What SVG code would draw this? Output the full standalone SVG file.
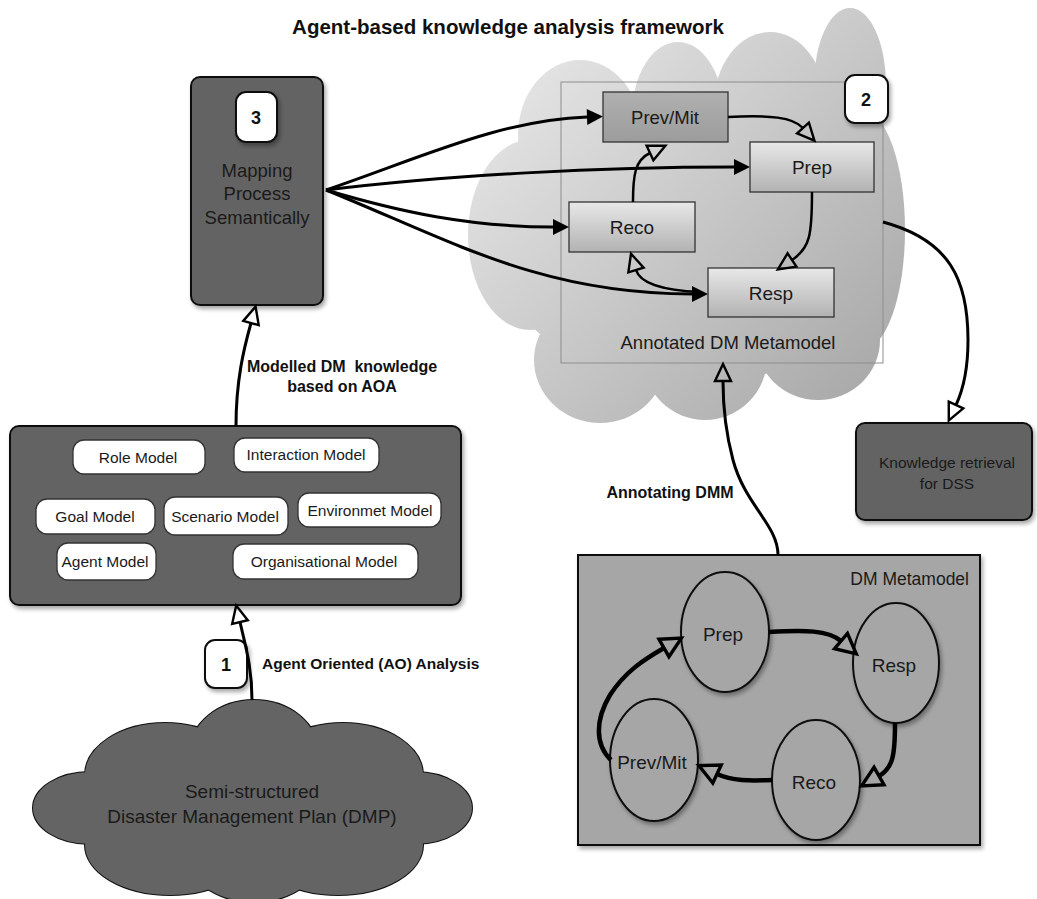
<svg xmlns="http://www.w3.org/2000/svg" width="1037" height="899" viewBox="0 0 1037 899">
<style>
text{font-family:"Liberation Sans",Arial,sans-serif;fill:#1a1a1a}
.b{font-weight:bold;fill:#111}
.c{text-anchor:middle}
.dark{fill:#646464;stroke:#111;stroke-width:2}
.pill{fill:#fff;stroke:#333;stroke-width:1.3}
.badge{fill:#fff;stroke:#111;stroke-width:2}
.ibox{stroke:#333;stroke-width:1.3}
.ell{fill:#a6a6a6;stroke:#111;stroke-width:2}
.con{fill:none;stroke:#000;stroke-width:3}
.thin{fill:none;stroke:#000;stroke-width:2.5}
.thick{fill:none;stroke:#000;stroke-width:4.5}
</style>
<defs>
<filter id="sh" x="-15%" y="-15%" width="140%" height="140%"><feDropShadow dx="2" dy="3" stdDeviation="2" flood-color="#000" flood-opacity="0.35"/></filter>
<linearGradient id="cloudG" gradientUnits="userSpaceOnUse" x1="480" y1="20" x2="900" y2="420"><stop offset="0" stop-color="#ececec"/><stop offset="1" stop-color="#a4a4a4"/></linearGradient>
<linearGradient id="boxG" x1="0" y1="0" x2="0" y2="1"><stop offset="0" stop-color="#e8e8e8"/><stop offset="1" stop-color="#b2b2b2"/></linearGradient>
<linearGradient id="boxD" x1="0" y1="0" x2="0" y2="1"><stop offset="0" stop-color="#b0b0b0"/><stop offset="1" stop-color="#9c9c9c"/></linearGradient>
<marker id="fa" markerUnits="userSpaceOnUse" markerWidth="24" markerHeight="24" refX="1" refY="8" orient="auto" overflow="visible"><path d="M1,0 L17,8 L1,16 Z" fill="#000"/></marker>
<marker id="oa" markerUnits="userSpaceOnUse" markerWidth="24" markerHeight="24" refX="1" refY="9" orient="auto" overflow="visible"><path d="M1,1 L18,9 L1,17 Z" fill="none" stroke="#000" stroke-width="2.4" stroke-linejoin="miter"/></marker>
<marker id="ol" markerUnits="userSpaceOnUse" markerWidth="30" markerHeight="30" refX="1" refY="11" orient="auto" overflow="visible"><path d="M1,1 L21,11 L1,21 Z" fill="none" stroke="#000" stroke-width="3.4"/></marker>
</defs>
<rect width="1037" height="899" fill="#fff"/>

<text class="b c" x="508" y="34" font-size="20.5">Agent-based knowledge analysis framework</text>

<g id="annotated-cloud">
<g fill="url(#cloudG)">
<ellipse cx="850" cy="85" rx="36" ry="77"/>
<ellipse cx="770" cy="105" rx="56" ry="73"/>
<ellipse cx="678" cy="115" rx="46" ry="73"/>
<ellipse cx="580" cy="135" rx="62" ry="75"/>
<ellipse cx="530" cy="235" rx="62" ry="95"/>
<ellipse cx="600" cy="360" rx="66" ry="63"/>
<ellipse cx="705" cy="358" rx="62" ry="62"/>
<ellipse cx="818" cy="340" rx="62" ry="60"/>
<ellipse cx="862" cy="230" rx="43" ry="120"/>
<ellipse cx="690" cy="235" rx="200" ry="150"/>
</g>
<rect x="561" y="82" width="322" height="281" fill="none" stroke="#8e8e8e" stroke-width="1"/>
<text class="c" x="728" y="349" font-size="18.5">Annotated DM Metamodel</text>
</g>

<g id="badge-2"><rect class="badge" x="845" y="75" width="43" height="48" rx="10" filter="url(#sh)"/><text class="b c" x="866" y="106" font-size="18">2</text></g>

<g id="prevmit-box"><rect class="ibox" x="603" y="92" width="125" height="50" fill="url(#boxD)"/><text class="c" x="665" y="124" font-size="18.5">Prev/Mit</text></g>
<g id="prep-box"><rect class="ibox" x="750" y="142" width="124" height="50" fill="url(#boxG)"/><text class="c" x="812" y="174" font-size="19">Prep</text></g>
<g id="reco-box"><rect class="ibox" x="569" y="202" width="126" height="50" fill="url(#boxG)"/><text class="c" x="632" y="234" font-size="19">Reco</text></g>
<g id="resp-box"><rect class="ibox" x="708" y="268" width="126" height="49" fill="url(#boxG)"/><text class="c" x="771" y="300" font-size="19">Resp</text></g>

<g id="mapping-node">
<rect class="dark" x="191" y="77" width="132" height="228" rx="9" filter="url(#sh)"/>
<rect class="badge" x="236" y="92" width="41" height="50" rx="10" filter="url(#sh)"/>
<text class="b c" x="256" y="124" font-size="18">3</text>
<text class="c" x="257" y="177" font-size="18.5">Mapping</text>
<text class="c" x="257" y="200" font-size="18.5">Process</text>
<text class="c" x="257" y="224" font-size="18.5">Semantically</text>
</g>

<g id="aoa-models">
<rect class="dark" x="10" y="426" width="451" height="179" rx="9" filter="url(#sh)"/>
<rect class="pill" x="73" y="440" width="132" height="34" rx="11"/><text class="c" x="138" y="463" font-size="15.5">Role Model</text>
<rect class="pill" x="234" y="438" width="145" height="34" rx="11"/><text class="c" x="306" y="460" font-size="15.5">Interaction Model</text>
<rect class="pill" x="36" y="499" width="119" height="35" rx="11"/><text class="c" x="95" y="522" font-size="15.5">Goal Model</text>
<rect class="pill" x="164" y="497" width="124" height="38" rx="11"/><text class="c" x="225" y="522" font-size="15.5">Scenario Model</text>
<rect class="pill" x="298" y="493" width="143" height="34" rx="11"/><text class="c" x="370" y="516" font-size="15.5">Environmet Model</text>
<rect class="pill" x="57" y="543" width="99" height="37" rx="11"/><text class="c" x="105" y="567" font-size="15.5">Agent Model</text>
<rect class="pill" x="233" y="544" width="185" height="35" rx="11"/><text class="c" x="324" y="567" font-size="15.5">Organisational Model</text>
</g>

<g id="dmp-cloud">
<g fill="#646464" stroke="#111" stroke-width="2">
<ellipse cx="254" cy="752" rx="64" ry="52"/>
<ellipse cx="165" cy="775" rx="80" ry="52"/>
<ellipse cx="343" cy="775" rx="80" ry="52"/>
<ellipse cx="90" cy="808" rx="57" ry="36"/>
<ellipse cx="415" cy="808" rx="57" ry="36"/>
<ellipse cx="170" cy="845" rx="85" ry="50"/>
<ellipse cx="338" cy="845" rx="85" ry="50"/>
<ellipse cx="254" cy="850" rx="70" ry="52"/>
</g>
<g fill="#646464">
<ellipse cx="254" cy="752" rx="64" ry="52"/>
<ellipse cx="165" cy="775" rx="80" ry="52"/>
<ellipse cx="343" cy="775" rx="80" ry="52"/>
<ellipse cx="90" cy="808" rx="57" ry="36"/>
<ellipse cx="415" cy="808" rx="57" ry="36"/>
<ellipse cx="170" cy="845" rx="85" ry="50"/>
<ellipse cx="338" cy="845" rx="85" ry="50"/>
<ellipse cx="254" cy="850" rx="70" ry="52"/>
<ellipse cx="254" cy="808" rx="165" ry="62"/>
</g>
<text class="c" x="252" y="798" font-size="19">Semi-structured</text>
<text class="c" x="252" y="823" font-size="19">Disaster Management Plan (DMP)</text>
</g>

<g id="knowledge-retrieval">
<rect class="dark" x="856" y="423" width="176" height="97" rx="9" filter="url(#sh)"/>
<text class="c" x="947" y="468" font-size="15.5">Knowledge retrieval</text>
<text class="c" x="947" y="489" font-size="15.5">for DSS</text>
</g>

<g id="dm-metamodel">
<rect x="578" y="555" width="402" height="290" fill="#a6a6a6" stroke="#111" stroke-width="2" filter="url(#sh)"/>
<text x="969" y="585" font-size="17.5" text-anchor="end">DM Metamodel</text>
<ellipse class="ell" cx="725" cy="632" rx="44" ry="60" filter="url(#sh)"/><text class="c" x="723" y="641" font-size="19">Prep</text>
<ellipse class="ell" cx="896" cy="663" rx="43" ry="60" filter="url(#sh)"/><text class="c" x="894" y="672" font-size="19">Resp</text>
<ellipse class="ell" cx="816" cy="780" rx="44" ry="60" filter="url(#sh)"/><text class="c" x="814" y="789" font-size="19">Reco</text>
<ellipse class="ell" cx="654" cy="760" rx="44" ry="61" filter="url(#sh)"/><text class="c" x="652" y="769" font-size="19">Prev/Mit</text>
</g>

<g id="badge-1"><rect class="badge" x="205" y="640" width="42" height="48" rx="10" filter="url(#sh)"/><text class="b c" x="226" y="671" font-size="18">1</text></g>

<g id="connectors">
<path class="con" d="M326,190 C420,158 500,120 587,117" marker-end="url(#fa)"/>
<path class="con" d="M326,190 C450,175 600,167 734,167" marker-end="url(#fa)"/>
<path class="con" d="M326,190 C400,212 470,227 553,227" marker-end="url(#fa)"/>
<path class="con" d="M326,190 C450,240 540,294 692,294" marker-end="url(#fa)"/>
<path class="thin" d="M728,117 C770,115 793,117 803,128" marker-end="url(#oa)"/>
<path class="thin" d="M633,202 C633,175 635,160 650,153" marker-end="url(#oa)"/>
<path class="thin" d="M812,192 C812,235 810,248 792,260" marker-end="url(#oa)"/>
<path class="thin" d="M700,292 C660,290 640,283 636,270" marker-end="url(#oa)"/>
<path class="con" d="M883,222 C950,240 968,280 968,340 C968,370 963,390 956,405" marker-end="url(#oa)"/>
<path class="con" d="M778,555 C778,525 745,505 733,460 C725,430 723,405 723,381" marker-end="url(#oa)"/>
<path class="con" d="M236,426 C236,380 244,348 251,323" marker-end="url(#oa)"/>
<path class="con" d="M252,700 C252,668 246,648 240,622" marker-end="url(#oa)"/>
<path class="thick" d="M769,632 C805,630 828,630 841,641" marker-end="url(#ol)"/>
<path class="thick" d="M895,723 C895,755 893,768 879,776" marker-end="url(#ol)"/>
<path class="thick" d="M772,780 C750,781 732,781 717,774" marker-end="url(#ol)"/>
<path class="thick" d="M611,760 C595,745 595,720 610,695 C625,672 643,660 664,648" marker-end="url(#ol)"/>
<text class="b c" x="342" y="372" font-size="16" style="white-space:pre">Modelled DM  knowledge</text>
<text class="b c" x="342" y="392" font-size="16">based on AOA</text>
<text class="b" x="262" y="669" font-size="15.5">Agent Oriented (AO) Analysis</text>
<text class="b c" x="670" y="498" font-size="16">Annotating DMM</text>
</g>
</svg>
